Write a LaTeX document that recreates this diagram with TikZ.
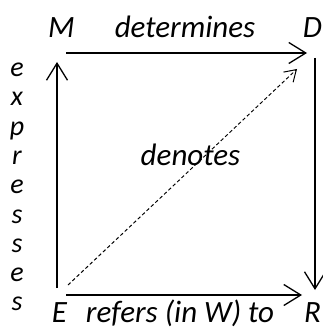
\documentclass[tikz,border=0pt]{standalone}
\usepackage{fontspec}
\setmainfont{Carlito}
\usetikzlibrary{arrows.meta}
\begin{document}
\begin{tikzpicture}[x=1pt,y=-1pt,
  lbl/.style={font=\fontsize{31}{36}\selectfont\itshape, inner sep=0pt, anchor=base},
  vlbl/.style={font=\fontsize{28}{32}\selectfont\itshape, inner sep=0pt, anchor=base},
  arr/.style={line width=1.3pt, -{Straight Barb[length=17pt,width=21pt,line width=1.3pt]}},
  dasharr/.style={line width=1pt, dash pattern=on 3.5pt off 2.5pt, -{Straight Barb[length=11pt,width=14pt,line width=1pt]}}]
\useasboundingbox (0,0) rectangle (322,331);
% corner labels
\node[lbl] (M) at (61.5,38) {M};
\node[lbl] (D) at (312.5,38) {D};
\node[lbl] (E) at (59.5,322.5) {E};
\node[lbl] (R) at (312.5,322.5) {R};
% edge labels
\node[lbl] (det) at (185,38) {determines};
\node[lbl] (ref) at (180,322.5) {refers (in W) to};
\node[lbl] (den) at (190.5,165) {denotes};
\foreach \l [count=\i] in {e,x,p,r,e,s,s,e,s}
  \node[vlbl] (v\i) at (17,{76.5+(\i-1)*29.3}) {\l};
% arrow endpoints
\coordinate (Mr) at (66,53);
\coordinate (Dl) at (307,53);
\coordinate (Eb) at (57,288);
\coordinate (Mb) at (57,62);
\coordinate (Dt) at (315,58);
\coordinate (Rt) at (315,290);
\coordinate (Er) at (66,295);
\coordinate (Rl) at (302,295);
\coordinate (Ed) at (68,285);
\coordinate (Dd) at (297,69);
% connectors
\draw[arr] (Mr) -- (Dl);
\draw[arr] (Eb) -- (Mb);
\draw[arr] (Dt) -- (Rt);
\draw[arr] (Er) -- (Rl);
\draw[dasharr] (Ed) -- (Dd);
\end{tikzpicture}
\end{document}
